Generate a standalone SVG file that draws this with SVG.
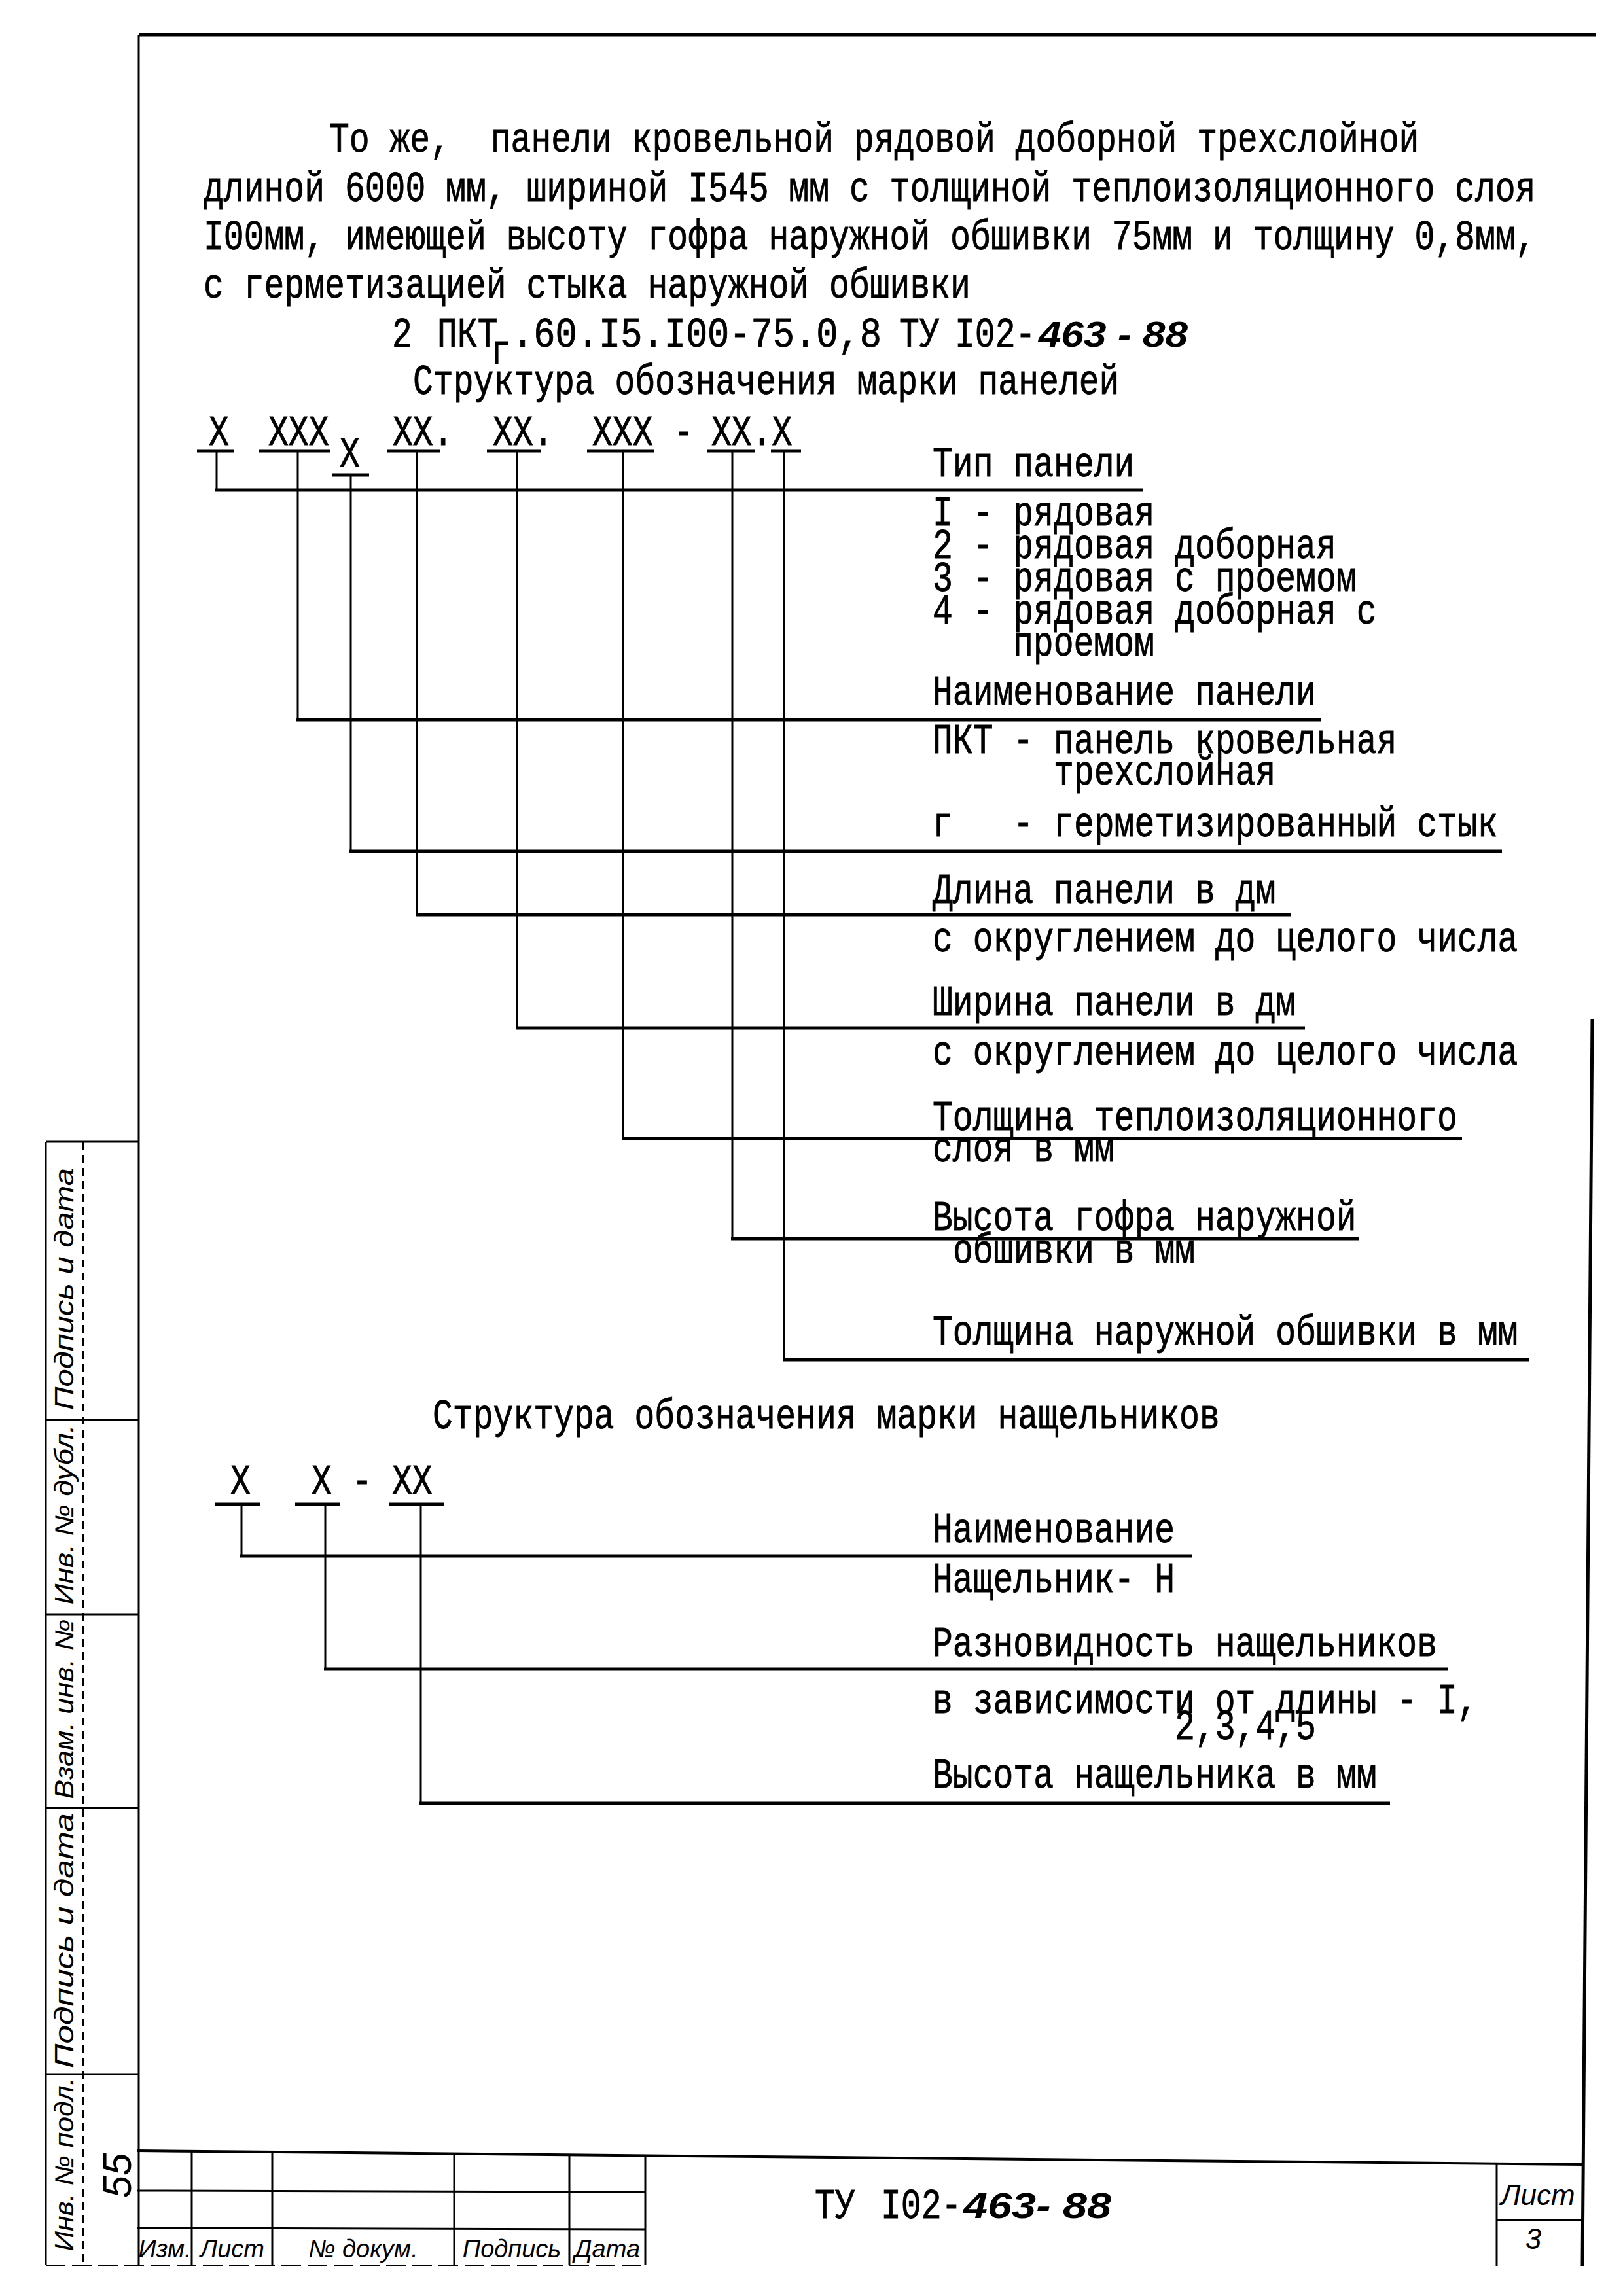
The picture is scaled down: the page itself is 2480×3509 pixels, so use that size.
<svg xmlns="http://www.w3.org/2000/svg" width="2480" height="3509" viewBox="0 0 2480 3509">
<style>
.t{font-family:"Liberation Mono","DejaVu Sans Mono",monospace;font-size:51.4px;fill:#000;stroke:#000;stroke-width:0.7}
.hw{font-family:"Liberation Sans","DejaVu Sans",sans-serif;font-style:italic;fill:#000}
.hb{font-family:"Liberation Sans","DejaVu Sans",sans-serif;font-style:italic;font-weight:bold;fill:#000}
.k{stroke:#000;fill:none}
.h{stroke-width:5}
.v{stroke-width:3}
.u{stroke-width:5}
</style>
<rect width="2480" height="3509" fill="#fff"/>

<g id="frame" class="k">
  <line x1="212" y1="53" x2="2439" y2="53" stroke-width="5"/>
  <line x1="212" y1="53" x2="212" y2="3462" stroke-width="3"/>
  <line x1="2433" y1="1558" x2="2418" y2="3463" stroke-width="5"/>
  <line x1="210" y1="3287" x2="2418" y2="3308" stroke-width="4"/>
  <line x1="210" y1="3348" x2="986" y2="3350" stroke-width="3"/>
  <line x1="210" y1="3405" x2="986" y2="3407" stroke-width="3"/>
  <line x1="293" y1="3288" x2="293" y2="3462" stroke-width="3"/>
  <line x1="416" y1="3289" x2="416" y2="3462" stroke-width="3"/>
  <line x1="694" y1="3291" x2="694" y2="3462" stroke-width="3"/>
  <line x1="870" y1="3293" x2="870" y2="3462" stroke-width="3"/>
  <line x1="986" y1="3294" x2="986" y2="3462" stroke-width="3"/>
  <line x1="70" y1="3462" x2="990" y2="3462" stroke-width="2" stroke-dasharray="30 10"/>
  <line x1="2287" y1="3307" x2="2287" y2="3463" stroke-width="3"/>
  <line x1="2287" y1="3393" x2="2418" y2="3393" stroke-width="3"/>
  <line x1="70" y1="1745" x2="70" y2="3462" stroke-width="3"/>
  <line x1="127" y1="1745" x2="127" y2="3462" stroke-width="2" stroke-dasharray="12 8"/>
  <line x1="70" y1="1745" x2="213" y2="1745" stroke-width="3"/>
  <line x1="70" y1="2170" x2="213" y2="2170" stroke-width="3"/>
  <line x1="70" y1="2467" x2="213" y2="2467" stroke-width="3"/>
  <line x1="70" y1="2763" x2="213" y2="2763" stroke-width="3"/>
  <line x1="70" y1="3170" x2="213" y2="3170" stroke-width="3"/>
</g>

<g id="stamp-texts">
  <text class="hw" font-size="40" text-anchor="middle" transform="translate(112,1970) rotate(-90)" textLength="370" lengthAdjust="spacingAndGlyphs">Подпись и дата</text>
  <text class="hw" font-size="40" text-anchor="middle" transform="translate(112,2315) rotate(-90)" textLength="275" lengthAdjust="spacingAndGlyphs">Инв. № дубл.</text>
  <text class="hw" font-size="40" text-anchor="middle" transform="translate(112,2612) rotate(-90)" textLength="275" lengthAdjust="spacingAndGlyphs">Взам. инв. №</text>
  <text class="hw" font-size="40" text-anchor="middle" transform="translate(112,2966) rotate(-90)" textLength="390" lengthAdjust="spacingAndGlyphs">Подпись и дата</text>
  <text class="hw" font-size="40" text-anchor="middle" transform="translate(112,3308) rotate(-90)" textLength="265" lengthAdjust="spacingAndGlyphs">Инв. № подл.</text>
  <text class="hw" font-size="62" text-anchor="middle" transform="translate(200,3325) rotate(-90)">55</text>
  <text class="hw" font-size="38" text-anchor="middle" x="252" y="3450">Изм.</text>
  <text class="hw" font-size="38" text-anchor="middle" x="355" y="3450">Лист</text>
  <text class="hw" font-size="38" text-anchor="middle" x="555" y="3450">№ докум.</text>
  <text class="hw" font-size="38" text-anchor="middle" x="782" y="3450">Подпись</text>
  <text class="hw" font-size="38" text-anchor="middle" x="928" y="3450">Дата</text>
  <text class="hw" font-size="44" text-anchor="middle" x="2350" y="3370">Лист</text>
  <text class="hw" font-size="44" text-anchor="middle" x="2343" y="3437">3</text>
  <text class="t" transform="translate(1245,3390) scale(1,1.25)">ТУ</text>
  <text class="t" transform="translate(1346,3390) scale(1,1.25)">I02-</text>
  <text class="hb" font-size="56" x="1472" y="3390" textLength="226" lengthAdjust="spacingAndGlyphs">463- 88</text>
</g>

<g id="header">
  <text class="t" transform="translate(503,232) scale(1,1.25)" xml:space="preserve">То же,  панели кровельной рядовой доборной трехслойной</text>
  <text class="t" transform="translate(311,307) scale(1,1.25)">длиной 6000 мм, шириной I545 мм с толщиной теплоизоляционного слоя</text>
  <text class="t" transform="translate(311,381) scale(1,1.25)">I00мм, имеющей высоту гофра наружной обшивки 75мм и толщину 0,8мм,</text>
  <text class="t" transform="translate(311,455) scale(1,1.25)">с герметизацией стыка наружной обшивки</text>
  <text class="t" transform="translate(599,530) scale(1,1.25)">2</text>
  <text class="t" transform="translate(668,530) scale(1,1.25)">ПКТ</text>
  <text class="t" transform="translate(750,556) scale(1,1.25)">г</text>
  <text class="t" transform="translate(782,530) scale(1,1.25)" textLength="565" lengthAdjust="spacingAndGlyphs">.60.I5.I00-75.0,8</text>
  <text class="t" transform="translate(1374,530) scale(1,1.25)">ТУ</text>
  <text class="t" transform="translate(1459,530) scale(1,1.25)">I02-</text>
  <text class="hb" font-size="56" x="1587" y="530" textLength="228" lengthAdjust="spacingAndGlyphs">463 - 88</text>
  <text class="t" transform="translate(631,602) scale(1,1.25)">Структура обозначения марки панелей</text>
</g>

<g id="panel-code">
  <text class="t" transform="translate(319,680) scale(1,1.25)">X</text>
  <text class="t" transform="translate(410,680) scale(1,1.25)">XXX</text>
  <text class="t" transform="translate(519,713) scale(1,1.25)">X</text>
  <text class="t" transform="translate(600,680) scale(1,1.25)">XX.</text>
  <text class="t" transform="translate(753,680) scale(1,1.25)">XX.</text>
  <text class="t" transform="translate(905,680) scale(1,1.25)">XXX</text>
  <text class="t" transform="translate(1029,680) scale(1,1.25)">-</text>
  <text class="t" transform="translate(1087,680) scale(1,1.25)">XX.X</text>
</g>

<g id="connectors" class="k">
  <g class="u">
    <line x1="301" y1="689" x2="357" y2="689"/>
    <line x1="396" y1="689" x2="504" y2="689"/>
    <line x1="508" y1="726" x2="564" y2="726"/>
    <line x1="592" y1="689" x2="673" y2="689"/>
    <line x1="744" y1="689" x2="827" y2="689"/>
    <line x1="897" y1="689" x2="999" y2="689"/>
    <line x1="1080" y1="689" x2="1153" y2="689"/>
    <line x1="1178" y1="689" x2="1224" y2="689"/>
    <line x1="328" y1="2299" x2="397" y2="2299"/>
    <line x1="451" y1="2299" x2="520" y2="2299"/>
    <line x1="595" y1="2299" x2="678" y2="2299"/>
  </g>
  <g class="v">
    <line x1="331" y1="689" x2="331" y2="749"/>
    <line x1="455" y1="689" x2="455" y2="1100"/>
    <line x1="536" y1="726" x2="536" y2="1301"/>
    <line x1="637" y1="689" x2="637" y2="1398"/>
    <line x1="790" y1="689" x2="790" y2="1571"/>
    <line x1="952" y1="689" x2="952" y2="1740"/>
    <line x1="1119" y1="689" x2="1119" y2="1893"/>
    <line x1="1198" y1="689" x2="1198" y2="2078"/>
    <line x1="369" y1="2299" x2="369" y2="2378"/>
    <line x1="497" y1="2299" x2="497" y2="2551"/>
    <line x1="643" y1="2299" x2="643" y2="2756"/>
  </g>
  <g class="h">
    <line x1="328" y1="749" x2="1747" y2="749"/>
    <line x1="453" y1="1100" x2="2019" y2="1100"/>
    <line x1="534" y1="1301" x2="2295" y2="1301"/>
    <line x1="635" y1="1398" x2="1973" y2="1398"/>
    <line x1="788" y1="1571" x2="1994" y2="1571"/>
    <line x1="950" y1="1740" x2="2234" y2="1740"/>
    <line x1="1117" y1="1893" x2="2076" y2="1893"/>
    <line x1="1196" y1="2078" x2="2337" y2="2078"/>
    <line x1="367" y1="2378" x2="1822" y2="2378"/>
    <line x1="495" y1="2551" x2="2213" y2="2551"/>
    <line x1="641" y1="2756" x2="2124" y2="2756"/>
  </g>
</g>

<g id="type">
  <text class="t" transform="translate(1425,728) scale(1,1.25)">Тип панели</text>
  <text class="t" transform="translate(1425,803) scale(1,1.25)">I - рядовая</text>
  <text class="t" transform="translate(1425,853) scale(1,1.25)">2 - рядовая доборная</text>
  <text class="t" transform="translate(1425,903) scale(1,1.25)">3 - рядовая с проемом</text>
  <text class="t" transform="translate(1425,953) scale(1,1.25)">4 - рядовая доборная с</text>
  <text class="t" transform="translate(1548,1002) scale(1,1.25)">проемом</text>
</g>
<g id="name">
  <text class="t" transform="translate(1425,1077) scale(1,1.25)">Наименование панели</text>
  <text class="t" transform="translate(1425,1151) scale(1,1.25)">ПКТ - панель кровельная</text>
  <text class="t" transform="translate(1610,1199) scale(1,1.25)">трехслойная</text>
</g>
<g id="joint">
  <text class="t" transform="translate(1425,1278) scale(1,1.25)" xml:space="preserve">г   - герметизированный стык</text>
</g>
<g id="length">
  <text class="t" transform="translate(1425,1380) scale(1,1.25)">Длина панели в дм</text>
  <text class="t" transform="translate(1425,1454) scale(1,1.25)">с округлением до целого числа</text>
</g>
<g id="width">
  <text class="t" transform="translate(1425,1551) scale(1,1.25)">Ширина панели в дм</text>
  <text class="t" transform="translate(1425,1627) scale(1,1.25)">с округлением до целого числа</text>
</g>
<g id="insulation">
  <text class="t" transform="translate(1425,1727) scale(1,1.25)">Толщина теплоизоляционного</text>
  <text class="t" transform="translate(1425,1775) scale(1,1.25)">слоя в мм</text>
</g>
<g id="corrugation">
  <text class="t" transform="translate(1425,1880) scale(1,1.25)">Высота гофра наружной</text>
  <text class="t" transform="translate(1456,1930) scale(1,1.25)">обшивки в мм</text>
</g>
<g id="sheet">
  <text class="t" transform="translate(1425,2055) scale(1,1.25)">Толщина наружной обшивки в мм</text>
</g>

<g id="cover-title">
  <text class="t" transform="translate(661,2183) scale(1,1.25)">Структура обозначения марки нащельников</text>
</g>
<g id="cover-code">
  <text class="t" transform="translate(352,2283) scale(1,1.25)">X</text>
  <text class="t" transform="translate(476,2283) scale(1,1.25)">X</text>
  <text class="t" transform="translate(538,2283) scale(1,1.25)">-</text>
  <text class="t" transform="translate(599,2283) scale(1,1.25)">XX</text>
</g>
<g id="cover-name">
  <text class="t" transform="translate(1425,2357) scale(1,1.25)">Наименование</text>
  <text class="t" transform="translate(1425,2433) scale(1,1.25)">Нащельник- Н</text>
</g>
<g id="cover-variant">
  <text class="t" transform="translate(1425,2531) scale(1,1.25)">Разновидность нащельников</text>
  <text class="t" transform="translate(1425,2618) scale(1,1.25)">в зависимости от длины - I,</text>
  <text class="t" transform="translate(1795,2658) scale(1,1.25)">2,3,4,5</text>
</g>
<g id="cover-height">
  <text class="t" transform="translate(1425,2732) scale(1,1.25)">Высота нащельника в мм</text>
</g>
</svg>
